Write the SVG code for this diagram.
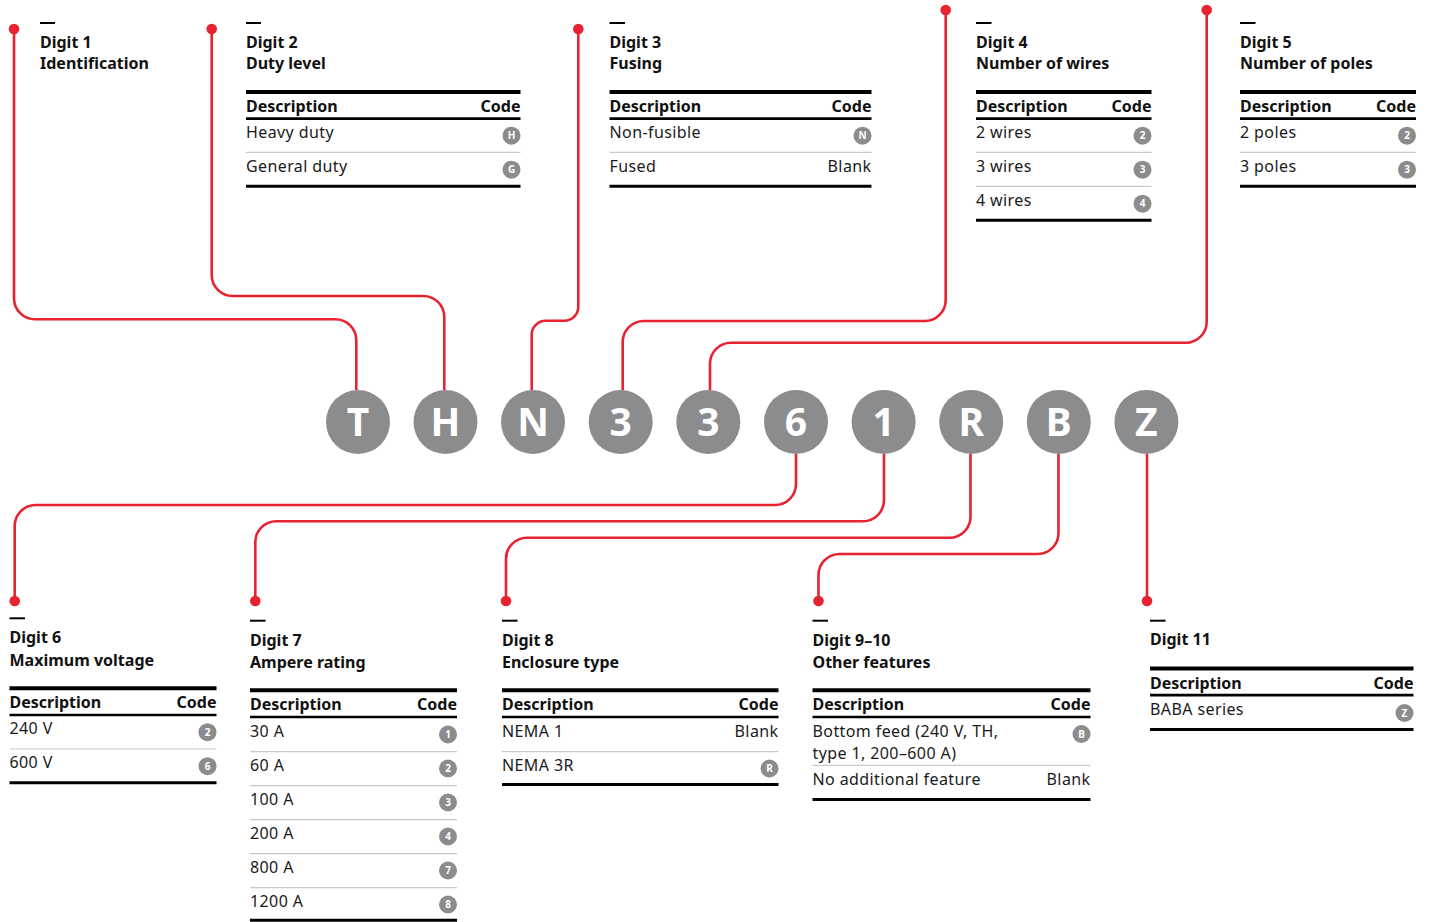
<svg xmlns="http://www.w3.org/2000/svg" width="1434" height="922" viewBox="0 0 1434 922">
<style>
.h{font-family:"Noto Sans","Liberation Sans",sans-serif;font-weight:700;font-size:16px;fill:#111}
.t{font-family:"Noto Sans","Liberation Sans",sans-serif;font-size:16px;fill:#1a1a1a;letter-spacing:0.4px}
.e{text-anchor:end}
.dash{stroke:#000;stroke-width:2}
.top{stroke:#000;stroke-width:4}
.mid{stroke:#000;stroke-width:2.7}
.bot{stroke:#000;stroke-width:3}
.sep{stroke:#cacaca;stroke-width:1.2}
.bd circle{fill:#8c8c8c}
.bd text{font-family:"Noto Sans","Liberation Sans",sans-serif;font-weight:700;font-size:10px;fill:#fff;text-anchor:middle}
.conn{fill:none;stroke:#e8222f;stroke-width:2.6}
.dot{fill:#e8222f}
.big circle{fill:#8b8c8e}
.big text{font-family:"Noto Sans","Liberation Sans",sans-serif;font-weight:700;font-size:39px;fill:#fff;text-anchor:middle}
</style>
<rect width="1434" height="922" fill="#fff"/>

<g id="connectors">
<path class="conn" d="M14,29 V298.3 A21,21 0 0 0 35,319.3 H335.3 A21,21 0 0 1 356.3,340.3 V390"/>
<path class="conn" d="M211.7,29 V275 A21,21 0 0 0 232.7,296 H423.3 A21,21 0 0 1 444.3,317 V390"/>
<path class="conn" d="M578.3,29 V306.7 A14,14 0 0 1 564.3,320.7 H545.7 A14,14 0 0 0 531.7,334.7 V390"/>
<path class="conn" d="M945.7,10 V300 A21,21 0 0 1 924.7,321 H643.7 A21,21 0 0 0 622.7,342 V390"/>
<path class="conn" d="M1206.7,10 V321.7 A21,21 0 0 1 1185.7,342.7 H731 A21,21 0 0 0 710,363.7 V390"/>
<path class="conn" d="M796,454 V484 A21,21 0 0 1 775,505 H35.7 A21,21 0 0 0 14.7,526 V601"/>
<path class="conn" d="M884,454 V500.3 A21,21 0 0 1 863,521.3 H276.3 A21,21 0 0 0 255.3,542.3 V601"/>
<path class="conn" d="M970.5,454 V516.7 A21,21 0 0 1 949.5,537.7 H527 A21,21 0 0 0 506,558.7 V601"/>
<path class="conn" d="M1058.5,454 V533 A21,21 0 0 1 1037.5,554 H839.5 A21,21 0 0 0 818.5,575 V601"/>
<path class="conn" d="M1147,454 V601"/>
<circle class="dot" cx="14" cy="29" r="5.3"/>
<circle class="dot" cx="211.7" cy="29" r="5.3"/>
<circle class="dot" cx="578.3" cy="29" r="5.3"/>
<circle class="dot" cx="945.7" cy="10" r="5.3"/>
<circle class="dot" cx="1206.7" cy="10" r="5.3"/>
<circle class="dot" cx="14.7" cy="601" r="5.3"/>
<circle class="dot" cx="255.3" cy="601" r="5.3"/>
<circle class="dot" cx="506" cy="601" r="5.3"/>
<circle class="dot" cx="818.5" cy="601" r="5.3"/>
<circle class="dot" cx="1147" cy="601" r="5.3"/>
</g>

<g id="code-letters" class="big">
<g id="c-T"><circle cx="358" cy="422" r="32"/><text x="358" y="436">T</text></g>
<g id="c-H"><circle cx="445.5" cy="422" r="32"/><text x="445.5" y="436">H</text></g>
<g id="c-N"><circle cx="533" cy="422" r="32"/><text x="533" y="436">N</text></g>
<g id="c-3a"><circle cx="620.7" cy="422" r="32"/><text x="620.7" y="436">3</text></g>
<g id="c-3b"><circle cx="708.3" cy="422" r="32"/><text x="708.3" y="436">3</text></g>
<g id="c-6"><circle cx="796" cy="422" r="32"/><text x="796" y="436">6</text></g>
<g id="c-1"><circle cx="883.6" cy="422" r="32"/><text x="883.6" y="436">1</text></g>
<g id="c-R"><circle cx="971.2" cy="422" r="32"/><text x="971.2" y="436">R</text></g>
<g id="c-B"><circle cx="1058.8" cy="422" r="32"/><text x="1058.8" y="436">B</text></g>
<g id="c-Z"><circle cx="1146.4" cy="422" r="32"/><text x="1146.4" y="436">Z</text></g>
</g>

<g id="digit1">
<line class="dash" x1="40" y1="23" x2="55" y2="23"/>
<text class="h" x="40" y="48">Digit 1</text>
<text class="h" x="40" y="69">Identification</text>
</g>

<g id="digit2">
<line class="dash" x1="246" y1="23" x2="261" y2="23"/>
<text class="h" x="246" y="48">Digit 2</text>
<text class="h" x="246" y="69">Duty level</text>
<line class="top" x1="246" y1="92" x2="520.5" y2="92"/>
<text class="h" x="246" y="112">Description</text>
<text class="h e" x="520.5" y="112">Code</text>
<line class="mid" x1="246" y1="118.7" x2="520.5" y2="118.7"/>
<text class="t" x="246" y="137.7">Heavy duty</text>
<g class="bd"><circle cx="511.5" cy="135.7" r="9"/><text x="511.5" y="139.3">H</text></g>
<line class="sep" x1="246" y1="152.3" x2="520.5" y2="152.3"/>
<text class="t" x="246" y="171.7">General duty</text>
<g class="bd"><circle cx="511.5" cy="169.7" r="9"/><text x="511.5" y="173.3">G</text></g>
<line class="bot" x1="246" y1="186.3" x2="520.5" y2="186.3"/>
</g>

<g id="digit3">
<line class="dash" x1="609.5" y1="23" x2="625" y2="23"/>
<text class="h" x="609.5" y="48">Digit 3</text>
<text class="h" x="609.5" y="69">Fusing</text>
<line class="top" x1="609.5" y1="92" x2="871.5" y2="92"/>
<text class="h" x="609.5" y="112">Description</text>
<text class="h e" x="871.5" y="112">Code</text>
<line class="mid" x1="609.5" y1="118.7" x2="871.5" y2="118.7"/>
<text class="t" x="609.5" y="137.7">Non-fusible</text>
<g class="bd"><circle cx="862.5" cy="135.7" r="9"/><text x="862.5" y="139.3">N</text></g>
<line class="sep" x1="609.5" y1="152.3" x2="871.5" y2="152.3"/>
<text class="t" x="609.5" y="171.7">Fused</text>
<text class="t e" x="871.5" y="171.7">Blank</text>
<line class="bot" x1="609.5" y1="186.3" x2="871.5" y2="186.3"/>
</g>

<g id="digit4">
<line class="dash" x1="976" y1="23" x2="991.5" y2="23"/>
<text class="h" x="976" y="48">Digit 4</text>
<text class="h" x="976" y="69">Number of wires</text>
<line class="top" x1="976" y1="92" x2="1151.5" y2="92"/>
<text class="h" x="976" y="112">Description</text>
<text class="h e" x="1151.5" y="112">Code</text>
<line class="mid" x1="976" y1="118.7" x2="1151.5" y2="118.7"/>
<text class="t" x="976" y="137.7">2 wires</text>
<g class="bd"><circle cx="1142.5" cy="135.7" r="9"/><text x="1142.5" y="139.3">2</text></g>
<line class="sep" x1="976" y1="152.3" x2="1151.5" y2="152.3"/>
<text class="t" x="976" y="171.7">3 wires</text>
<g class="bd"><circle cx="1142.5" cy="169.7" r="9"/><text x="1142.5" y="173.3">3</text></g>
<line class="sep" x1="976" y1="186.3" x2="1151.5" y2="186.3"/>
<text class="t" x="976" y="205.7">4 wires</text>
<g class="bd"><circle cx="1142.5" cy="203.7" r="9"/><text x="1142.5" y="207.3">4</text></g>
<line class="bot" x1="976" y1="220.3" x2="1151.5" y2="220.3"/>
</g>

<g id="digit5">
<line class="dash" x1="1240" y1="23" x2="1255.5" y2="23"/>
<text class="h" x="1240" y="48">Digit 5</text>
<text class="h" x="1240" y="69">Number of poles</text>
<line class="top" x1="1240" y1="92" x2="1416" y2="92"/>
<text class="h" x="1240" y="112">Description</text>
<text class="h e" x="1416" y="112">Code</text>
<line class="mid" x1="1240" y1="118.7" x2="1416" y2="118.7"/>
<text class="t" x="1240" y="137.7">2 poles</text>
<g class="bd"><circle cx="1407" cy="135.7" r="9"/><text x="1407" y="139.3">2</text></g>
<line class="sep" x1="1240" y1="152.3" x2="1416" y2="152.3"/>
<text class="t" x="1240" y="171.7">3 poles</text>
<g class="bd"><circle cx="1407" cy="169.7" r="9"/><text x="1407" y="173.3">3</text></g>
<line class="bot" x1="1240" y1="186.3" x2="1416" y2="186.3"/>
</g>

<g id="digit6">
<line class="dash" x1="9.5" y1="618.3" x2="25" y2="618.3"/>
<text class="h" x="9.5" y="643.3">Digit 6</text>
<text class="h" x="9.5" y="665.5">Maximum voltage</text>
<line class="top" x1="9.5" y1="688.3" x2="216.5" y2="688.3"/>
<text class="h" x="9.5" y="708.3">Description</text>
<text class="h e" x="216.5" y="708.3">Code</text>
<line class="mid" x1="9.5" y1="715" x2="216.5" y2="715"/>
<text class="t" x="9.5" y="734">240 V</text>
<g class="bd"><circle cx="207.5" cy="732.2" r="9"/><text x="207.5" y="735.8">2</text></g>
<line class="sep" x1="9.5" y1="749" x2="216.5" y2="749"/>
<text class="t" x="9.5" y="768">600 V</text>
<g class="bd"><circle cx="207.5" cy="766.2" r="9"/><text x="207.5" y="769.8">6</text></g>
<line class="bot" x1="9.5" y1="782.7" x2="216.5" y2="782.7"/>
</g>

<g id="digit7">
<line class="dash" x1="250" y1="620.7" x2="265.5" y2="620.7"/>
<text class="h" x="250" y="645.6">Digit 7</text>
<text class="h" x="250" y="667.5">Ampere rating</text>
<line class="top" x1="250" y1="690.3" x2="457" y2="690.3"/>
<text class="h" x="250" y="710.3">Description</text>
<text class="h e" x="457" y="710.3">Code</text>
<line class="mid" x1="250" y1="717" x2="457" y2="717"/>
<text class="t" x="250" y="736.7">30 A</text>
<g class="bd"><circle cx="448" cy="734.5" r="9"/><text x="448" y="738.1">1</text></g>
<line class="sep" x1="250" y1="751.7" x2="457" y2="751.7"/>
<text class="t" x="250" y="770.7">60 A</text>
<g class="bd"><circle cx="448" cy="768.5" r="9"/><text x="448" y="772.1">2</text></g>
<line class="sep" x1="250" y1="785.7" x2="457" y2="785.7"/>
<text class="t" x="250" y="804.7">100 A</text>
<g class="bd"><circle cx="448" cy="802.5" r="9"/><text x="448" y="806.1">3</text></g>
<line class="sep" x1="250" y1="819.7" x2="457" y2="819.7"/>
<text class="t" x="250" y="838.7">200 A</text>
<g class="bd"><circle cx="448" cy="836.5" r="9"/><text x="448" y="840.1">4</text></g>
<line class="sep" x1="250" y1="853.7" x2="457" y2="853.7"/>
<text class="t" x="250" y="872.7">800 A</text>
<g class="bd"><circle cx="448" cy="870.5" r="9"/><text x="448" y="874.1">7</text></g>
<line class="sep" x1="250" y1="887.7" x2="457" y2="887.7"/>
<text class="t" x="250" y="906.7">1200 A</text>
<g class="bd"><circle cx="448" cy="904.5" r="9"/><text x="448" y="908.1">8</text></g>
<line class="bot" x1="250" y1="920.3" x2="457" y2="920.3"/>
</g>

<g id="digit8">
<line class="dash" x1="502" y1="620.7" x2="517.5" y2="620.7"/>
<text class="h" x="502" y="645.6">Digit 8</text>
<text class="h" x="502" y="667.5">Enclosure type</text>
<line class="top" x1="502" y1="690.3" x2="778.5" y2="690.3"/>
<text class="h" x="502" y="710.3">Description</text>
<text class="h e" x="778.5" y="710.3">Code</text>
<line class="mid" x1="502" y1="717" x2="778.5" y2="717"/>
<text class="t" x="502" y="736.7">NEMA 1</text>
<text class="t e" x="778.5" y="736.7">Blank</text>
<line class="sep" x1="502" y1="751.7" x2="778.5" y2="751.7"/>
<text class="t" x="502" y="770.7">NEMA 3R</text>
<g class="bd"><circle cx="769.5" cy="768.5" r="9"/><text x="769.5" y="772.1">R</text></g>
<line class="bot" x1="502" y1="784.5" x2="778.5" y2="784.5"/>
</g>

<g id="digit9-10">
<line class="dash" x1="812.5" y1="620.7" x2="828" y2="620.7"/>
<text class="h" x="812.5" y="645.6">Digit 9–10</text>
<text class="h" x="812.5" y="667.5">Other features</text>
<line class="top" x1="812.5" y1="690.3" x2="1090.5" y2="690.3"/>
<text class="h" x="812.5" y="710.3">Description</text>
<text class="h e" x="1090.5" y="710.3">Code</text>
<line class="mid" x1="812.5" y1="717" x2="1090.5" y2="717"/>
<text class="t" x="812.5" y="736.7">Bottom feed (240 V, TH,</text>
<text class="t" x="812.5" y="758.6">type 1, 200–600 A)</text>
<g class="bd"><circle cx="1081.5" cy="734" r="9"/><text x="1081.5" y="737.6">B</text></g>
<line class="sep" x1="812.5" y1="765.3" x2="1090.5" y2="765.3"/>
<text class="t" x="812.5" y="784.6">No additional feature</text>
<text class="t e" x="1090.5" y="784.6">Blank</text>
<line class="bot" x1="812.5" y1="799.6" x2="1090.5" y2="799.6"/>
</g>

<g id="digit11">
<line class="dash" x1="1150" y1="620.7" x2="1165.5" y2="620.7"/>
<text class="h" x="1150" y="645.3">Digit 11</text>
<line class="top" x1="1150" y1="668.5" x2="1413.5" y2="668.5"/>
<text class="h" x="1150" y="688.5">Description</text>
<text class="h e" x="1413.5" y="688.5">Code</text>
<line class="mid" x1="1150" y1="695.2" x2="1413.5" y2="695.2"/>
<text class="t" x="1150" y="714.9">BABA series</text>
<g class="bd"><circle cx="1404.5" cy="713" r="9"/><text x="1404.5" y="716.6">Z</text></g>
<line class="bot" x1="1150" y1="729.5" x2="1413.5" y2="729.5"/>
</g>
</svg>
